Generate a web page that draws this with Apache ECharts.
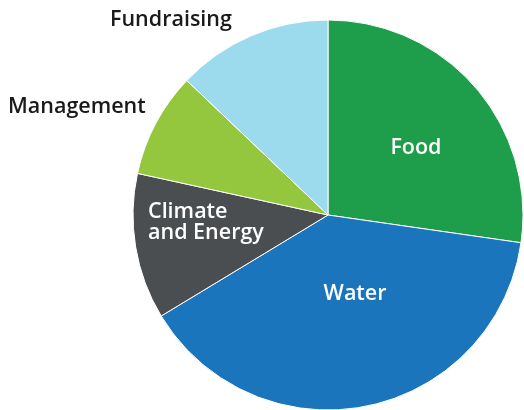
<!DOCTYPE html>
<html><head><meta charset="utf-8">
<script src="https://cdn.jsdelivr.net/npm/echarts@6/dist/echarts.min.js"></script>
<style>html,body{margin:0;padding:0;background:#fff}#c{width:524px;height:410px}</style>
</head><body><div id="c"></div>
<script>
const categories = ['Food', 'Water', 'Climate\nand Energy', 'Management', 'Fundraising'];
const values = [27.3, 39.1, 12.1, 8.7, 12.9];
const colors = ['#1e9e4b', '#1a75bc', '#4b4e51', '#94c73e', '#9cdaee'];

// label placement tweaks (not data)
const labelAdjust = [
  {dx: 12, dy: -1},
  {dx: 7, dy: -20},
  {x: 148, y: 222, align: 'left'},
  {x: 8, y: 107, align: 'left'},
  {x: 110, y: 20, align: 'left'}
];
const outsideIdx = [3, 4];

const chart = echarts.init(document.getElementById('c'));
chart.setOption({
  animation: false,
  series: [{
    type: 'pie',
    center: [328, 215],
    radius: [0, 195],
    startAngle: 90,
    clockwise: true,
    itemStyle: {borderColor: '#fff', borderWidth: 1},
    label: {
      show: true,
      position: 'inside',
      color: '#fff',
      fontFamily: 'Open Sans',
      fontWeight: 600,
      fontSize: 21.5,
      lineHeight: 21,
      overflow: 'none'
    },
    labelLine: {show: false},
    labelLayout: function (p) {
      const a = labelAdjust[p.dataIndex];
      if (a.x !== undefined) {
        return {x: a.x, y: a.y, align: a.align, verticalAlign: 'middle'};
      }
      return {dx: a.dx, dy: a.dy};
    },
    data: categories.map((n, i) => {
      const d = {name: n, value: values[i], itemStyle: {color: colors[i]}};
      if (outsideIdx.includes(i)) {
        d.label = {position: 'outside', color: '#1a1a1a', align: 'left', overflow: 'none', width: 300};
        d.labelLine = {show: false};
      }
      if (i === 2) {
        d.label = {align: 'left'};
      }
      return d;
    })
  }]
});
</script>
</body></html>
